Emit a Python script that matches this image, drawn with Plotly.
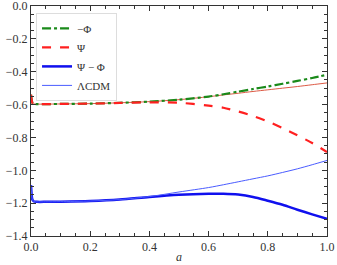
import plotly.graph_objects as go

a = [0.0, 0.005, 0.01, 0.02, 0.05, 0.1, 0.2, 0.3, 0.4, 0.5, 0.6, 0.65, 0.7, 0.75, 0.8, 0.85, 0.9, 0.95, 1.0]
minus_phi = [-0.54, -0.59, -0.596, -0.597, -0.597, -0.596, -0.594, -0.589, -0.582, -0.57, -0.551, -0.537, -0.521, -0.505, -0.49, -0.473, -0.456, -0.438, -0.418]
psi = [-0.54, -0.59, -0.596, -0.597, -0.597, -0.596, -0.594, -0.59, -0.586, -0.589, -0.606, -0.619, -0.642, -0.669, -0.703, -0.743, -0.787, -0.834, -0.889]
psi_minus_phi = [-1.09, -1.18, -1.19, -1.192, -1.192, -1.191, -1.187, -1.178, -1.162, -1.149, -1.143, -1.143, -1.148, -1.162, -1.185, -1.21, -1.24, -1.268, -1.296]
lcdm_phi = [-0.54, -0.59, -0.596, -0.597, -0.597, -0.596, -0.594, -0.589, -0.582, -0.57, -0.552, -0.541, -0.531, -0.52, -0.51, -0.5, -0.49, -0.479, -0.468]
lcdm_psi_minus_phi = [-1.09, -1.18, -1.19, -1.192, -1.192, -1.191, -1.187, -1.178, -1.16, -1.132, -1.105, -1.088, -1.07, -1.052, -1.034, -1.013, -0.991, -0.966, -0.94]

yticks = [0.0, -0.2, -0.4, -0.6, -0.8, -1.0, -1.2, -1.4]
xticks = [0.0, 0.2, 0.4, 0.6, 0.8, 1.0]

fig = go.Figure()
fig.add_trace(go.Scatter(x=a, y=lcdm_phi, mode="lines", line=dict(color="#dd5a45", width=1, shape="spline", smoothing=0.8), showlegend=False))
fig.add_trace(go.Scatter(x=a, y=minus_phi, mode="lines", name="−Φ", line=dict(color="#1a8a1a", width=2.2, dash="dashdot", shape="spline", smoothing=0.8)))
fig.add_trace(go.Scatter(x=a, y=psi, mode="lines", name="Ψ", line=dict(color="#ff2020", width=2.2, dash="dash", shape="spline", smoothing=0.8)))
fig.add_trace(go.Scatter(x=a, y=psi_minus_phi, mode="lines", name="Ψ − Φ", line=dict(color="#1010ee", width=2.5, shape="spline", smoothing=0.8)))
fig.add_trace(go.Scatter(x=a, y=lcdm_psi_minus_phi, mode="lines", name="ΛCDM", line=dict(color="#4a5cff", width=1, shape="spline", smoothing=0.8)))

font = "Liberation Serif"
axis_common = dict(
    showgrid=False, zeroline=False, showline=True, linecolor="#333", linewidth=1, mirror="ticks",
    ticks="inside", ticklen=5, tickcolor="#333", tickfont=dict(family=font, size=12, color="#333"),
    automargin=False, ticklabeloverflow="allow",
)
fig.update_xaxes(range=[0, 1], tickvals=xticks, ticktext=[f"{v:.1f}" for v in xticks],
                 minor=dict(dtick=0.05, ticks="inside", ticklen=3, tickcolor="#333"),
                 **axis_common)
fig.update_yaxes(range=[-1.4, 0.0003], tickvals=yticks,
                 ticktext=[("−" if v < 0 else "") + f"{abs(v):.1f}" for v in yticks],
                 minor=dict(dtick=0.05, ticks="inside", ticklen=3, tickcolor="#333"),
                 **axis_common)
fig.add_annotation(text="<i>a</i>", xref="paper", yref="paper", x=0.5, y=-0.09, yanchor="middle",
                   showarrow=False, font=dict(family=font, size=12, color="#333"))
fig.update_layout(
    width=337, height=265, margin=dict(l=31, r=10, t=6, b=29),
    plot_bgcolor="white", paper_bgcolor="white",
    legend=dict(x=0.017, y=0.97, xanchor="left", yanchor="top", bgcolor="rgba(255,255,255,0.8)",
                bordercolor="#ddd", borderwidth=1, font=dict(family=font, size=11, color="#333"),
                tracegroupgap=0, itemwidth=30),
)
fig.write_html("out.html", config={"displayModeBar": False},
               post_script="document.body.style.margin='0';document.body.style.overflow='hidden';")
